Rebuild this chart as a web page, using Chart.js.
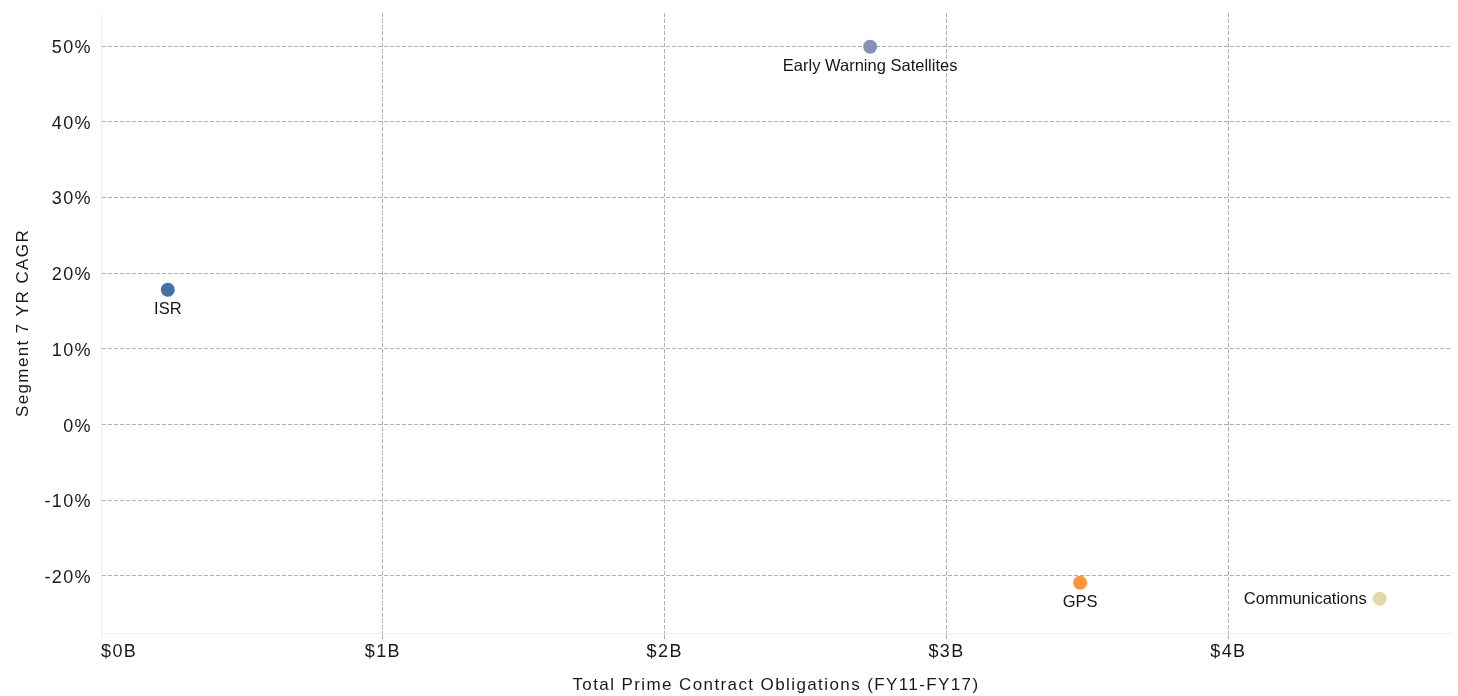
<!DOCTYPE html>
<html>
<head>
<meta charset="utf-8">
<script src="https://cdn.jsdelivr.net/npm/chart.js@4"></script>
<style>
  html, body { margin: 0; padding: 0; background: #ffffff; }
  #wrap { width: 1458px; height: 696px; position: relative; }
</style>
</head>
<body>
<div id="wrap"><canvas id="chart" width="1458" height="696"></canvas></div>
<script>
// Space segments: total prime contract obligations vs. 7-year CAGR
const segments     = ['ISR', 'Early Warning Satellites', 'GPS', 'Communications'];
const obligationsB = [0.237, 2.729, 3.474, 4.537];   // $ billions, FY11-FY17
const cagrPct      = [17.8, 49.9, -20.9, -23.0];      // segment 7 YR CAGR, %
const pointColors  = ['#4670a8', '#8592b5', '#fd9638', '#e1d8a8'];
const labelSide    = ['below', 'below', 'below', 'left'];
const xTickValues  = [0, 1, 2, 3, 4];
const yTickValues  = [-20, -10, 0, 10, 20, 30, 40, 50];

const X_MIN = 0, X_MAX = 4.79;
const Y_MIN = -27.53, Y_MAX = 54.36;

const FONT = '"Liberation Sans", Arial, Helvetica, sans-serif';
const GRID = '#b0b0b0';
const AXIS_LINE = '#ececec';
const CLEAR = 'rgba(0,0,0,0)';

// wider tracking for axis text
const tracking = {
  id: 'tracking',
  beforeUpdate(c) { c.ctx.letterSpacing = '1.4px'; },
  beforeDraw(c) { c.ctx.letterSpacing = '1.4px'; }
};

// segment names next to their points
const pointLabels = {
  id: 'pointLabels',
  afterDatasetsDraw(c) {
    const ctx = c.ctx;
    const meta = c.getDatasetMeta(0);
    ctx.save();
    ctx.letterSpacing = '0px';
    ctx.font = '16.5px ' + FONT;
    ctx.fillStyle = '#161616';
    ctx.textBaseline = 'middle';
    meta.data.forEach((el, i) => {
      if (labelSide[i] === 'left') {
        ctx.textAlign = 'right';
        ctx.fillText(segments[i], el.x - 13, el.y + 1);
      } else {
        ctx.textAlign = 'center';
        ctx.fillText(segments[i], el.x, el.y + 20);
      }
    });
    ctx.restore();
  }
};

const isXTick = v => xTickValues.includes(v);

new Chart(document.getElementById('chart'), {
  type: 'scatter',
  data: {
    datasets: [{
      data: obligationsB.map((v, i) => ({ x: v, y: cagrPct[i] })),
      backgroundColor: pointColors,
      borderWidth: 0,
      pointRadius: 7,
      pointHoverRadius: 7
    }]
  },
  plugins: [tracking, pointLabels],
  options: {
    responsive: false,
    animation: false,
    layout: { padding: { top: 13, right: 4, left: 0, bottom: 0 } },
    plugins: { legend: { display: false }, tooltip: { enabled: false }, title: { display: false } },
    scales: {
      x: {
        type: 'linear',
        min: X_MIN,
        max: X_MAX,
        afterFit(s) { s.height = 63; s.paddingLeft = 0; s.paddingRight = 0; },
        afterBuildTicks(s) {
          s.ticks = xTickValues.map(v => ({ value: v })).concat([{ value: X_MAX }]);
        },
        ticks: {
          align: 'inner',
          padding: 2,
          autoSkip: false,
          maxRotation: 0,
          color: '#1a1a1a',
          font: { family: FONT, size: 18 },
          callback: v => isXTick(v) ? '$' + v + 'B' : ''
        },
        grid: {
          color: ctx => (ctx.tick && ctx.tick.value > 0 && isXTick(ctx.tick.value)) ? GRID : CLEAR,
          tickColor: ctx => {
            if (!ctx.tick) return CLEAR;
            if (ctx.tick.value === 0) return AXIS_LINE;
            return isXTick(ctx.tick.value) ? GRID : CLEAR;
          },
          lineWidth: 1,
          tickLength: 6,
          drawTicks: true
        },
        border: { display: true, color: AXIS_LINE, dash: [4, 2], width: 1 },
        title: {
          display: true,
          text: 'Total Prime Contract Obligations (FY11-FY17)',
          color: '#1a1a1a',
          font: { family: FONT, size: 17 },
          padding: { top: 0, bottom: 0 }
        }
      },
      y: {
        type: 'linear',
        min: Y_MIN,
        max: Y_MAX,
        afterFit(s) { s.width = 101; s.paddingTop = 0; s.paddingBottom = 0; },
        afterBuildTicks(s) { s.ticks = yTickValues.map(v => ({ value: v })); },
        ticks: {
          padding: 9,
          labelOffset: 2,
          color: '#1a1a1a',
          font: { family: FONT, size: 18 },
          callback: v => v + '%'
        },
        grid: {
          color: GRID,
          lineWidth: 1,
          drawTicks: false
        },
        border: { display: true, color: AXIS_LINE, dash: [4, 2], width: 1 },
        title: {
          display: true,
          text: 'Segment 7 YR CAGR',
          color: '#1a1a1a',
          font: { family: FONT, size: 17 },
          padding: { top: 13, bottom: 0 }
        }
      }
    }
  }
});
</script>
</body>
</html>
